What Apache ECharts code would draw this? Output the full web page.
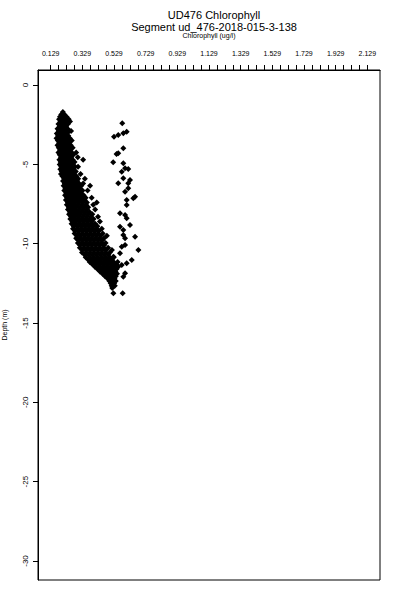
<!DOCTYPE html>
<html><head><meta charset="utf-8">
<script src="https://cdn.jsdelivr.net/npm/echarts@6/dist/echarts.min.js"></script>
<style>html,body{margin:0;padding:0;background:#fff}#c{width:400px;height:600px}</style>
</head><body><div id="c"></div>
<script>
const titleLines = ['UD476 Chlorophyll', 'Segment ud_476-2018-015-3-138'];
const xAxisName = 'Chlorophyll (ug/l)';
const yAxisName = 'Depth (m)';
const xTickLabels = [0.129, 0.329, 0.529, 0.729, 0.929, 1.129, 1.329, 1.529, 1.729, 1.929, 2.129];
const yTickLabels = [0, -5, -10, -15, -20, -25, -30];

// Main (dense) band: one depth per row, chlorophyll readings at that depth
const mainDepths = [-1.70,-1.85,-2.00,-2.15,-2.30,-2.45,-2.60,-2.75,-2.90,-3.05,-3.20,-3.35,-3.50,-3.65,-3.80,-3.95,-4.10,-4.25,-4.40,-4.55,-4.70,-4.85,-5.00,-5.15,-5.30,-5.45,-5.60,-5.75,-5.90,-6.05,-6.20,-6.35,-6.50,-6.65,-6.80,-6.95,-7.10,-7.25,-7.40,-7.55,-7.70,-7.85,-8.00,-8.15,-8.30,-8.45,-8.60,-8.75,-8.90,-9.05,-9.20,-9.35,-9.50,-9.65,-9.80,-9.95,-10.10,-10.25,-10.40,-10.55,-10.70,-10.85,-11.00,-11.15,-11.30,-11.45,-11.60,-11.75,-11.90,-12.05,-12.20,-12.35,-12.50,-12.65,-12.80];
const mainChl = [
  [0.206],
  [0.196,0.216],
  [0.188,0.209,0.229],
  [0.182,0.200,0.221,0.243],
  [0.191,0.212,0.233,0.251],
  [0.178,0.199,0.219,0.238],
  [0.186,0.207,0.226],
  [0.172,0.194,0.214,0.236],
  [0.180,0.201,0.223,0.244,0.258],
  [0.168,0.190,0.211,0.232],
  [0.176,0.198,0.219,0.240],
  [0.166,0.186,0.207,0.228,0.250],
  [0.174,0.195,0.216,0.238,0.262],
  [0.182,0.203,0.225,0.246],
  [0.172,0.192,0.213,0.234,0.256],
  [0.180,0.201,0.222,0.244,0.268],
  [0.188,0.209,0.231,0.253],
  [0.178,0.198,0.219,0.240,0.262,0.290],
  [0.186,0.207,0.228,0.250,0.272],
  [0.194,0.215,0.236,0.258,0.300],
  [0.184,0.204,0.225,0.246,0.268,0.334],
  [0.192,0.213,0.234,0.256,0.280],
  [0.186,0.201,0.222,0.243,0.265],
  [0.196,0.217,0.238,0.260,0.284,0.302],
  [0.190,0.206,0.228,0.249,0.271],
  [0.199,0.220,0.242,0.264,0.288],
  [0.194,0.210,0.231,0.253,0.276,0.318],
  [0.203,0.224,0.246,0.268,0.292],
  [0.214,0.235,0.257,0.280,0.303,0.345],
  [0.207,0.228,0.250,0.272,0.296],
  [0.218,0.240,0.262,0.285,0.308,0.334],
  [0.211,0.232,0.254,0.277,0.300,0.322,0.378],
  [0.222,0.244,0.266,0.290,0.314],
  [0.215,0.237,0.259,0.282,0.306,0.330,0.362],
  [0.227,0.249,0.272,0.296,0.320],
  [0.220,0.242,0.265,0.288,0.312,0.337],
  [0.232,0.255,0.278,0.302,0.326,0.350,0.388],
  [0.225,0.247,0.270,0.294,0.318,0.343],
  [0.238,0.261,0.284,0.308,0.333,0.358,0.420],
  [0.231,0.253,0.277,0.301,0.326,0.351,0.398],
  [0.244,0.267,0.291,0.316,0.341,0.366],
  [0.238,0.260,0.284,0.308,0.333,0.358,0.410],
  [0.251,0.274,0.298,0.323,0.348,0.374],
  [0.245,0.268,0.292,0.316,0.341,0.366,0.392],
  [0.258,0.282,0.306,0.331,0.356,0.382,0.428],
  [0.253,0.276,0.300,0.325,0.350,0.375,0.400],
  [0.266,0.290,0.315,0.340,0.365,0.390,0.440],
  [0.261,0.285,0.309,0.334,0.359,0.384,0.410],
  [0.275,0.299,0.324,0.349,0.374,0.399,0.424],
  [0.270,0.294,0.318,0.343,0.368,0.393,0.418,0.452],
  [0.284,0.308,0.333,0.358,0.383,0.408,0.434],
  [0.280,0.304,0.328,0.353,0.378,0.403,0.428,0.458],
  [0.294,0.318,0.343,0.368,0.393,0.418,0.444,0.484],
  [0.290,0.314,0.339,0.364,0.389,0.414,0.439,0.466],
  [0.305,0.329,0.354,0.379,0.404,0.429,0.454],
  [0.301,0.325,0.350,0.375,0.400,0.425,0.450,0.476],
  [0.316,0.341,0.366,0.391,0.416,0.441,0.466],
  [0.313,0.338,0.363,0.388,0.413,0.438,0.463,0.492],
  [0.329,0.354,0.379,0.404,0.429,0.454,0.479,0.516],
  [0.327,0.352,0.377,0.402,0.427,0.452,0.477,0.503],
  [0.344,0.369,0.394,0.419,0.444,0.469,0.494],
  [0.350,0.375,0.400,0.425,0.450,0.475,0.500,0.528],
  [0.365,0.390,0.415,0.440,0.465,0.490,0.515],
  [0.376,0.401,0.426,0.451,0.476,0.501,0.527,0.552],
  [0.392,0.417,0.442,0.467,0.492,0.517,0.542],
  [0.408,0.432,0.457,0.482,0.507,0.532,0.556],
  [0.424,0.449,0.474,0.499,0.524,0.545],
  [0.440,0.464,0.489,0.514,0.538],
  [0.456,0.480,0.504,0.528,0.548],
  [0.472,0.496,0.519,0.540],
  [0.488,0.510,0.532],
  [0.500,0.521,0.540],
  [0.508,0.530],
  [0.514,0.534],
  [0.518]
];

// Sparse right band: [chlorophyll, depth]
const rightBand = [
  [0.581,-2.41],[0.609,-2.94],[0.588,-3.04],[0.556,-3.15],[0.529,-3.26],
  [0.588,-3.99],[0.556,-4.30],[0.545,-4.35],[0.524,-4.87],[0.588,-4.93],
  [0.599,-5.25],[0.578,-5.46],[0.619,-5.29],[0.588,-5.88],[0.630,-5.99],
  [0.619,-6.19],[0.556,-6.19],[0.619,-6.51],[0.599,-6.72],[0.609,-7.25],
  [0.651,-7.14],[0.662,-7.04],[0.609,-7.56],[0.567,-8.08],[0.599,-8.19],
  [0.609,-8.40],[0.567,-8.93],[0.588,-9.14],[0.630,-8.82],[0.588,-9.45],
  [0.599,-9.66],[0.662,-9.56],[0.578,-10.19],[0.599,-10.08],[0.683,-10.40],
  [0.567,-10.60],[0.525,-10.82],[0.641,-11.03],[0.578,-11.34],[0.546,-11.34],
  [0.609,-11.24],[0.599,-11.87],[0.588,-12.08],[0.525,-13.12],[0.584,-13.12]
];

const mainBand = [];
mainDepths.forEach((d, i) => mainChl[i].forEach(v => mainBand.push([v, d])));

const xMinorTicks = [];
for (let k = 0; k <= 40; k++) xMinorTicks.push(Math.round((0.129 + 0.05 * k) * 1000) / 1000);

const font = '"Liberation Sans", Arial, Helvetica, sans-serif';
const chart = echarts.init(document.getElementById('c'), null, {renderer: 'svg'});
chart.setOption({
  animation: false,
  backgroundColor: '#fff',
  title: {
    text: titleLines.join('\n'),
    left: 209, top: 4, textAlign: 'center',
    textStyle: {fontFamily: font, fontSize: 11, fontWeight: 'normal', color: '#000', lineHeight: 12}
  },
  grid: {left: 38, right: 20, top: 70, bottom: 20, containLabel: false, outerBoundsMode: 'none',
         show: true, borderColor: '#000', borderWidth: 1, backgroundColor: 'transparent'},
  xAxis: {
    type: 'value', position: 'top', min: 0.049, max: 2.209,
    name: xAxisName, nameLocation: 'middle', nameGap: 31,
    nameTextStyle: {fontFamily: font, fontSize: 7, color: '#000'},
    axisLine: {show: true, onZero: false, lineStyle: {color: '#000', width: 1}},
    axisTick: {show: true, customValues: xMinorTicks, length: 5, lineStyle: {color: '#000', width: 1}},
    axisLabel: {customValues: xTickLabels, formatter: v => v.toFixed(3), margin: 13, fontFamily: font, fontSize: 7, color: '#000'},
    splitLine: {show: false}
  },
  yAxis: {
    type: 'value', min: -31.2, max: 0.95,
    name: yAxisName, nameLocation: 'middle', nameGap: 30, nameRotate: 90,
    nameTextStyle: {fontFamily: font, fontSize: 7, color: '#000'},
    axisLine: {show: true, onZero: false, lineStyle: {color: '#000', width: 1}},
    axisTick: {show: true, customValues: yTickLabels, length: 5, lineStyle: {color: '#000', width: 1}},
    axisLabel: {customValues: yTickLabels, rotate: 90, margin: 9, fontFamily: font, fontSize: 8, color: '#000', formatter: v => String(v)},
    splitLine: {show: false}
  },
  series: [
    {type: 'scatter', data: mainBand, symbol: 'diamond', symbolSize: 6, itemStyle: {color: '#000', opacity: 1}},
    {type: 'scatter', data: rightBand, symbol: 'diamond', symbolSize: 6, itemStyle: {color: '#000', opacity: 1}}
  ]
});
</script></body></html>
